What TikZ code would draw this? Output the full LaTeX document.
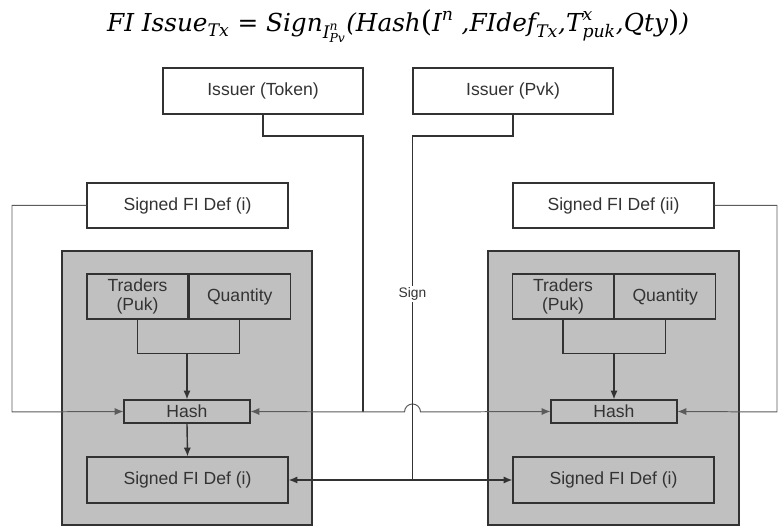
\documentclass[tikz,border=0pt]{standalone}
\usepackage{amsmath}
\usepackage{fontspec}
\setmainfont{Liberation Sans}
\newfontfamily\eqfont{DejaVu Serif}
\usetikzlibrary{arrows.meta, positioning}

\definecolor{panelgray}{RGB}{192,192,192}
\definecolor{linegray}{RGB}{50,50,50}
\newcommand{\mi}[1]{\text{\eqfont\itshape #1}}
\newcommand{\bigpar}[1]{\text{\eqfont\fontsize{20.5}{21}\selectfont #1}}

\begin{document}
\begin{tikzpicture}[
    box/.style={rectangle, draw=linegray, line width=0.9pt, fill=white, inner sep=0pt,
      minimum width=5cm, minimum height=1.15cm, text=black!80, font=\fontsize{12.5}{14}\selectfont},
    half/.style={box, minimum width=2.525cm, align=center},
    hashbox/.style={box, fill=panelgray, minimum width=3.15cm, minimum height=0.575cm},
    panel/.style={rectangle, draw=linegray, line width=0.9pt, fill=panelgray, inner sep=0pt},
    wire/.style={draw=linegray, line width=1pt},
    thinwire/.style={draw=linegray!80, line width=0.7pt},
    >={Latex[length=2.2mm, width=1.8mm]}
  ]
  \useasboundingbox (0,0) rectangle (19.475,13.175);

  % formula on top
  \node[anchor=base, inner sep=0pt] (eq) at (9.95,12.38) {\fontsize{17.6}{20}\selectfont
    $\mi{FI Issue}_{\mi{Tx}} \mi{ = } \mi{Sign}_{\mi{I}^{\mi{n}}_{\mi{Pv}}}\mi{(}\mi{Hash}\bigpar{(}\mi{I}^{\mi{n}}\mi{ ,FIdef}_{\mi{Tx}}\mi{,}\mi{T}^{\mi{x}}_{\mi{puk}}\mi{,}\mi{Qty}\bigpar{)}\mi{)}$};

  % issuer boxes
  \node[box] (tok) at (6.575,10.9) {Issuer (Token)};
  \node[box] (pvk) at (12.825,10.9) {Issuer (Pvk)};

  % FI definitions outside the panels
  \node[box, minimum width=5.025cm, minimum height=1.125cm] (sdL) at (4.6875,8.0375) {Signed FI Def (i)};
  \node[box, minimum width=5.025cm, minimum height=1.125cm] (sdR) at (15.3375,8.0375) {Signed FI Def (ii)};

  % grey panels
  \node[panel, minimum width=6.25cm, minimum height=6.85cm] (pL) at (4.675,3.475) {};
  \node[panel, minimum width=6.275cm, minimum height=6.85cm] (pR) at (15.3375,3.475) {};

  % left panel
  \node[half, fill=panelgray, minimum height=1.125cm] (trL) at (3.4375,5.7625) {Traders\\(Puk)};
  \node[half, fill=panelgray, minimum height=1.125cm, right=0pt of trL] (qtyL) {Quantity};
  \node[hashbox] (hashL) at (4.675,2.8875) {Hash};
  \node[box, fill=panelgray, minimum width=5.025cm, minimum height=1.15cm] (sdbL) at (4.6875,1.175) {Signed FI Def (i)};

  % right panel
  \node[half, fill=panelgray, minimum height=1.125cm] (trR) at (14.075,5.7625) {Traders\\(Puk)};
  \node[half, fill=panelgray, minimum height=1.125cm, right=0pt of trR] (qtyR) {Quantity};
  \node[hashbox] (hashR) at (15.35,2.8875) {Hash};
  \node[box, fill=panelgray, minimum width=5.025cm, minimum height=1.15cm] (sdbR) at (15.3375,1.175) {Signed FI Def (i)};

  % junctions
  \coordinate (jT) at (9.075,2.875);
  \coordinate (jP) at (10.3125,1.175);

  % inputs to the hash boxes
  \draw[wire] (trL.south) -- ++(0,-0.85) -| (qtyL.south);
  \draw[wire, ->] (hashL.north |- 0,4.35) -- (hashL.north);
  \draw[wire] (trR.south) -- ++(0,-0.85) -| (qtyR.south);
  \draw[wire, ->] (hashR.north |- 0,4.35) -- (hashR.north);
  \draw[wire, ->] (hashL.south) -- (sdbL.north);

  \draw[thinwire, ->] (sdL.west) -| (0.3,2.875) -- (hashL.west);
  \draw[thinwire, ->] (sdR.east) -| (19.425,2.875) -- (hashR.east);

  % token line, hops over the sign line
  \draw[wire] (tok.south) |- (9.075,9.775) -- (jT);
  \draw[thinwire, ->] (jT) -- (hashL.east);
  \draw[thinwire, ->] (jT) -- (10.1125,2.875) arc (180:0:0.2) -- (hashR.west);

  % sign line
  \draw[wire, line width=1.2pt] (pvk.south) |- (10.3125,9.775) -- (jP)
    node[pos=0.46, fill=white, inner sep=1pt, text=black!80, font=\fontsize{9.8}{11}\selectfont] {Sign};
  \draw[wire, ->] (jP) -- (sdbL.east);
  \draw[wire, ->] (jP) -- (sdbR.west);
\end{tikzpicture}
\end{document}
